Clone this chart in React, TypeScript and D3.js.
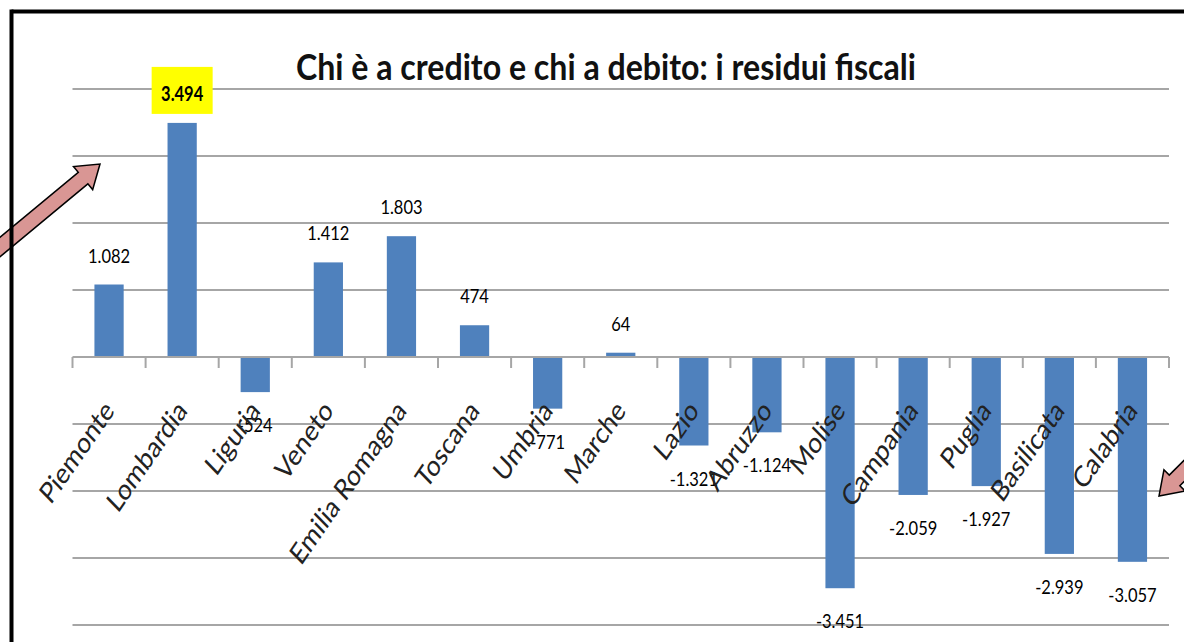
import React from "react";
import * as d3 from "d3";

const categories = [
  "Piemonte", "Lombardia", "Liguria", "Veneto", "Emilia Romagna", "Toscana", "Umbria",
  "Marche", "Lazio", "Abruzzo", "Molise", "Campania", "Puglia", "Basilicata", "Calabria",
];
const values = [1082, 3494, -524, 1412, 1803, 474, -771, 64, -1321, -1124, -3451, -2059, -1927, -2939, -3057];
const highlighted = ["Lombardia"];
const gridTicks = [-4000, -3000, -2000, -1000, 1000, 2000, 3000, 4000];
const title = "Chi è a credito e chi a debito: i residui fiscali";

const W = 1184;
const H = 642;
const X0 = 72.5;
const X1 = 1169;
const SY = 1.22; // vertical text stretch of the reference
const FONT = "Lato, 'Open Sans', sans-serif";

const locale = d3.formatLocale({ decimal: ",", thousands: ".", grouping: [3], currency: ["", "€"], minus: "-" });
const fmt = locale.format(",d");

function arrowPath(tail: [number, number], tip: [number, number], shaftHalf: number, headHalf: number, headLen: number) {
  const dx = tip[0] - tail[0];
  const dy = tip[1] - tail[1];
  const len = Math.hypot(dx, dy);
  const ux = dx / len, uy = dy / len;
  const nx = -uy, ny = ux;
  const bx = tip[0] - ux * headLen, by = tip[1] - uy * headLen;
  const pts = [
    [tail[0] + nx * shaftHalf, tail[1] + ny * shaftHalf],
    [bx + nx * shaftHalf, by + ny * shaftHalf],
    [bx + nx * headHalf, by + ny * headHalf],
    [tip[0], tip[1]],
    [bx - nx * headHalf, by - ny * headHalf],
    [bx - nx * shaftHalf, by - ny * shaftHalf],
    [tail[0] - nx * shaftHalf, tail[1] - ny * shaftHalf],
  ];
  return "M" + pts.map((p) => p.join(",")).join("L") + "Z";
}

export default function App() {
  const x = d3.scaleBand<string>().domain(categories).range([X0, X1]).paddingInner(0.6).paddingOuter(0.3);
  const xStep = d3.scaleBand<string>().domain(categories).range([X0, X1]);
  const y = d3.scaleLinear().domain([-4000, 4000]).range([625, 89]);
  const y0 = y(0);
  const tickXs = [...categories.map((c) => xStep(c) as number), X1];

  return (
    <svg width={W} height={H} style={{ position: "absolute", left: 0, top: 0, background: "#fff" }} fontFamily={FONT}>
      <rect x={0} y={0} width={W} height={H} fill="#fff" />
      {/* frame */}
      <line x1={11.5} y1={11.5} x2={W + 10} y2={11.5} stroke="#000" strokeWidth={4} />

      {/* gridlines */}
      {gridTicks.map((t) => (
        <line key={t} x1={X0} x2={X1} y1={y(t)} y2={y(t)} stroke="#a6a6a6" strokeWidth={2} />
      ))}

      {/* title */}
      <g transform={`translate(${606},${80}) scale(1,${SY})`}>
        <text textAnchor="middle" fontSize={30} fontWeight="bold" fill="#111" textLength={620} lengthAdjust="spacingAndGlyphs">
          {title}
        </text>
      </g>

      {/* bars */}
      {categories.map((c, i) => {
        const v = values[i];
        return (
          <rect
            key={c}
            x={x(c)}
            width={x.bandwidth()}
            y={Math.min(y(v), y0)}
            height={Math.abs(y(v) - y0)}
            fill="#4f81bd"
          />
        );
      })}

      {/* axis */}
      <line x1={X0} x2={X1} y1={y0} y2={y0} stroke="#a6a6a6" strokeWidth={2} />
      {tickXs.map((tx, i) => (
        <line key={i} x1={tx} x2={tx} y1={y0} y2={y0 + 11} stroke="#a6a6a6" strokeWidth={2} />
      ))}

      {/* data labels */}
      {categories.map((c, i) => {
        const v = values[i];
        const cx = (x(c) as number) + x.bandwidth() / 2;
        const by = v >= 0 ? y(v) - 22 : y(v) + 40;
        const hi = highlighted.includes(c);
        return (
          <g key={c}>
            {hi && <rect x={cx - 30.5} y={by - 34} width={61} height={47} fill="#ffff00" />}
            <g transform={`translate(${cx},${by}) scale(1,${SY})`}>
              <text textAnchor="middle" fontSize={16.5} fontWeight={hi ? "bold" : "normal"} fill="#000">
                {fmt(v)}
              </text>
            </g>
          </g>
        );
      })}

      {/* category labels */}
      {categories.map((c) => {
        const cx = (xStep(c) as number) + xStep.bandwidth() / 2;
        return (
          <g key={c} transform={`translate(${cx - 7},${398}) scale(1,${SY}) rotate(-50)`}>
            <text textAnchor="end" dy="0.72em" fontSize={24} fill="#222">
              {c}
            </text>
          </g>
        );
      })}

      {/* arrows */}
      <path d={arrowPath([-30, 272], [100, 164], 7.5, 15, 22)} fill="#d99694" stroke="#000" strokeWidth={1.5} strokeLinejoin="miter" />
      <path d={arrowPath([1215, 440], [1159, 496], 7.5, 15, 22)} fill="#d99694" stroke="#000" strokeWidth={1.5} strokeLinejoin="miter" />
      {/* frame left line drawn over the left arrow */}
      <line x1={11.5} y1={9.5} x2={11.5} y2={H + 10} stroke="#000" strokeWidth={4} />
    </svg>
  );
}
